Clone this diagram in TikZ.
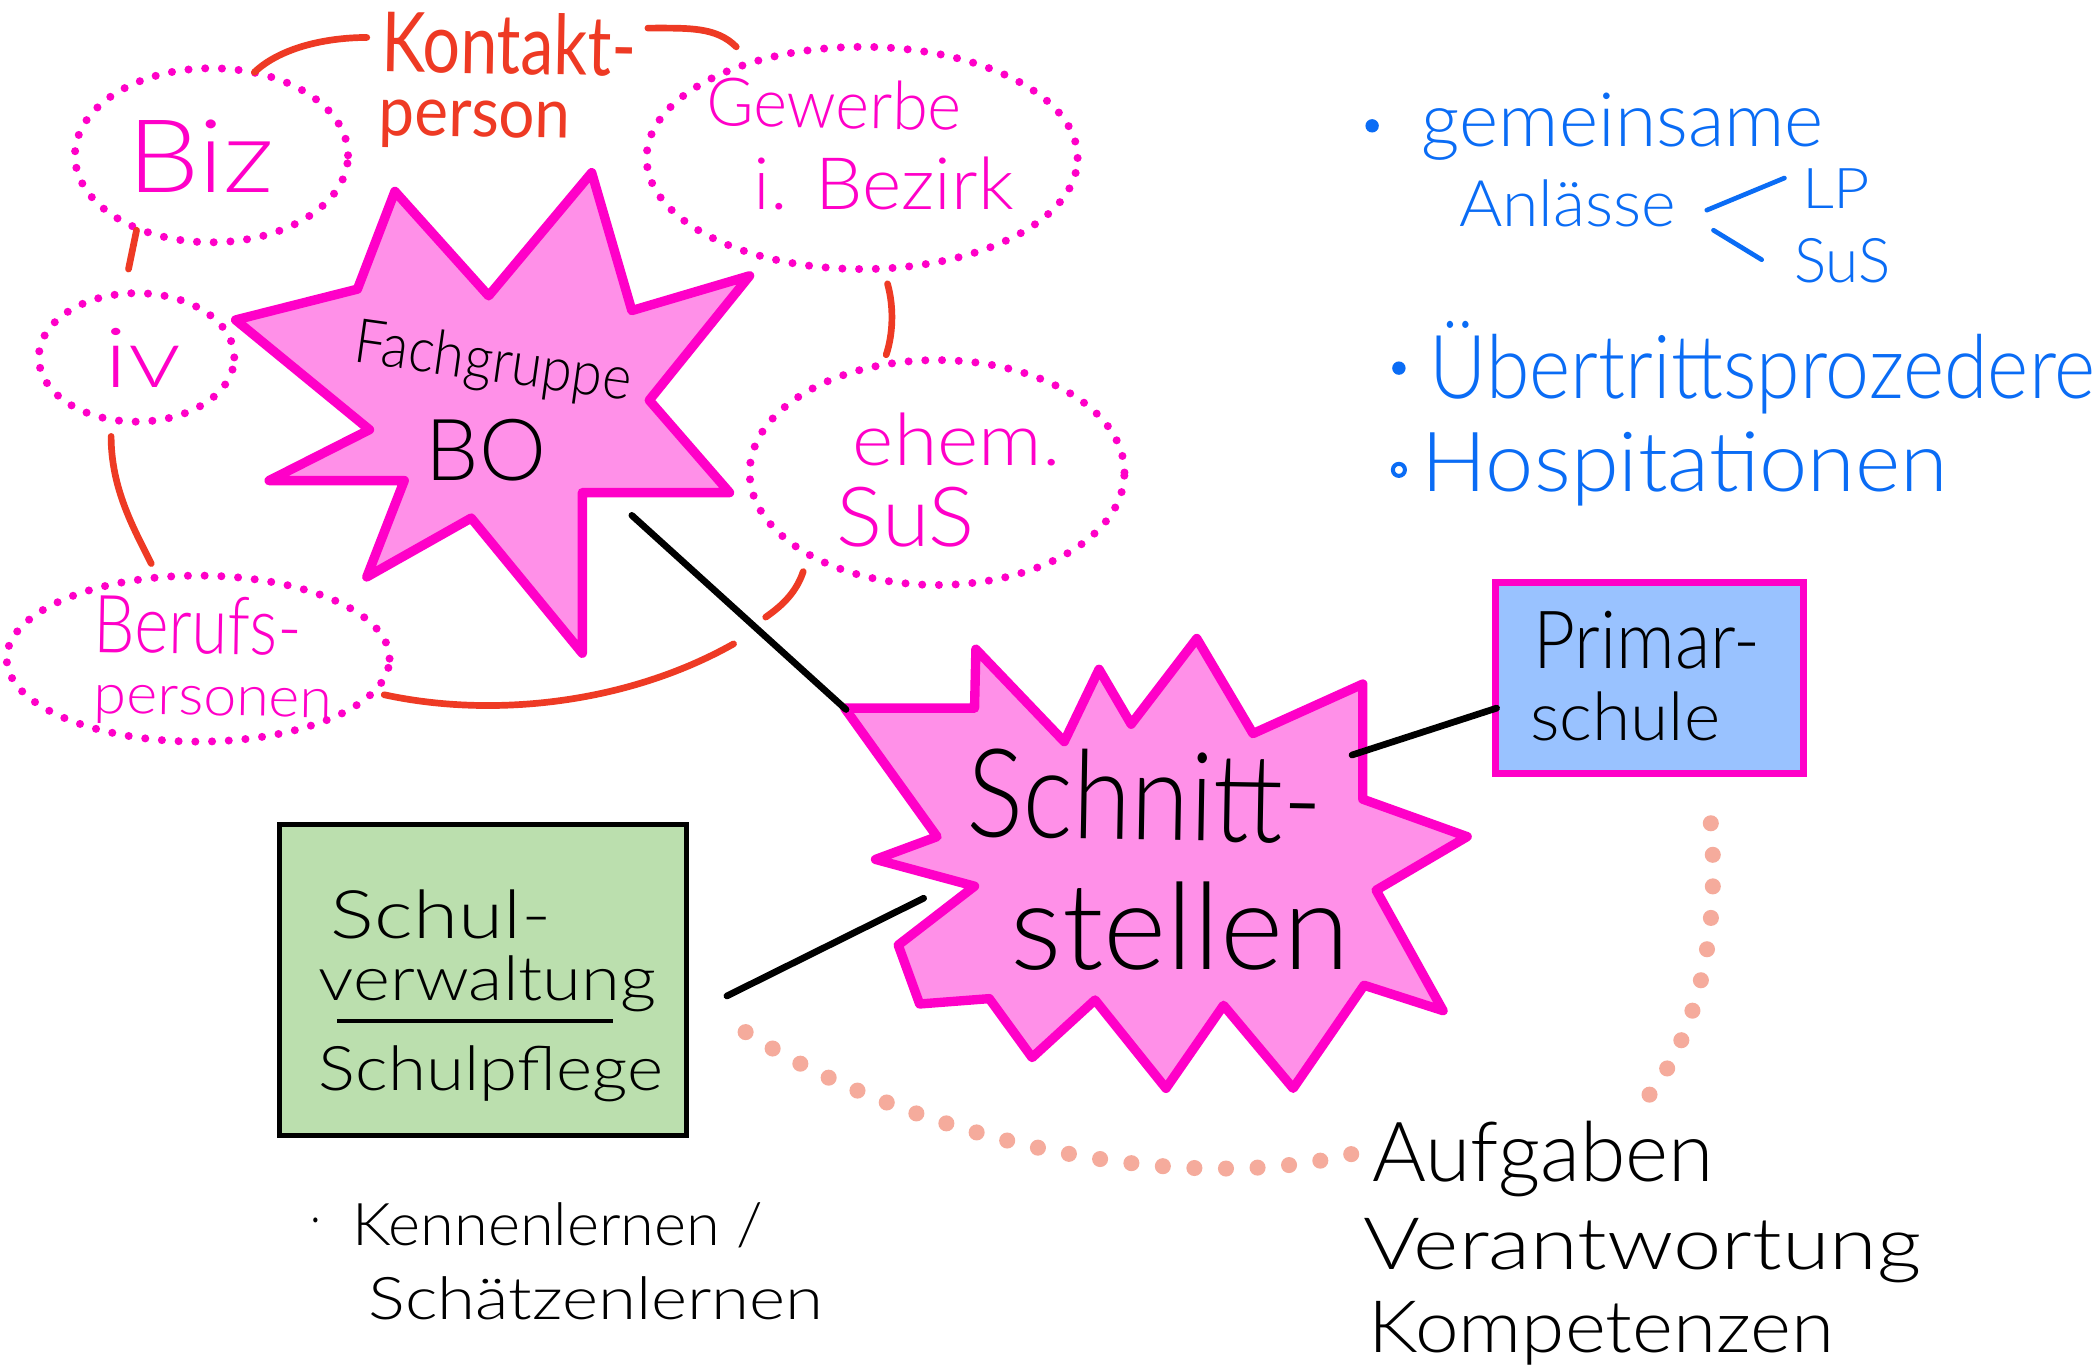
\documentclass[tikz,border=0pt]{standalone}
\usepackage{fontspec}
\setmainfont{Lato Light}
\newfontfamily\hwheavy{Lato}
\usetikzlibrary{shapes.geometric}
\definecolor{mag}{HTML}{FF00C8}
\definecolor{pinkfill}{HTML}{FF90E8}
\definecolor{redl}{HTML}{EE3A24}
\definecolor{bluet}{HTML}{0A6CF5}
\definecolor{salmon}{HTML}{F5AB9C}
\definecolor{greenb}{HTML}{BBDFAE}
\definecolor{blueb}{HTML}{99C2FF}
\tikzset{
 x=1pt,y=-1pt,
 burst/.style={draw=mag,fill=pinkfill,line width=7pt,line join=round},
 dotell/.style={ellipse,draw=mag,line width=6pt,line cap=round,dash pattern=on 0pt off 12.5pt,inner sep=0pt,minimum width=#1},
 redline/.style={draw=redl,line width=5pt,line cap=round},
 blackline/.style={draw=black,line width=5pt,line cap=round},
 bluebranch/.style={draw=bluet,line width=3.5pt,line cap=round},
 salmondots/.style={draw=salmon,line width=12pt,line cap=round,dash pattern=on 0pt off 23.6pt},
 tx/.style={anchor=west,inner sep=0pt},
 magt/.style={tx,text=mag},
 redt/.style={tx,text=redl,font=\hwheavy},
 bluetx/.style={tx,text=bluet},
 blackt/.style={tx,text=black},
}
\newcommand{\hw}[3]{{\fontsize{#1}{#1}\selectfont\resizebox{#2pt}{\height}{#3}}}
\begin{document}
\begin{tikzpicture}
\useasboundingbox (0,0) rectangle (1568,1024);
\fill[white] (0,0) rectangle (1568,1024);
% bursts
\draw[burst] (176,239)--(267,216)--(295,143)--(365,221)--(442,129)--(472,232)--(560,206)--(485,299)--(545,368)--(435,368)--(435,488)--(352,387)--(274,431)--(302,359)--(201,359)--(276,321)--cycle;
\draw[burst] (631,529)--(728,529)--(729,485)--(795,554)--(821,500)--(845,541)--(894,477)--(936,548)--(1018,511)--(1018,597)--(1096,625)--(1028,665)--(1078,755)--(1019,736)--(966,813)--(914,751)--(871,813)--(818,747)--(771,790)--(739,746)--(687,750)--(671,706)--(728,662)--(654,642)--(700,625)--cycle;
% ellipses
\node[dotell=204pt,minimum height=130pt] (biz) at (158,116) {};
\node[dotell=146pt,minimum height=96pt] (iv) at (102,267) {};
\node[dotell=322pt,minimum height=166pt] (gew) at (644,118) {};
\node[dotell=280pt,minimum height=168pt] (ehem) at (700,353) {};
\node[dotell=286pt,minimum height=124pt] (ber) at (148,492) {};
% boxes
\node[draw=black,fill=greenb,line width=3.5pt,minimum width=304pt,minimum height=232pt,inner sep=0pt] (sv) at (361,732) {};
\node[draw=mag,fill=blueb,line width=5pt,minimum width=230pt,minimum height=143pt,inner sep=0pt] (ps) at (1232,506.5) {};
% texts
\node[redt,rotate=-1] (kon) at (285,31) {\hw{62}{190}{Kontakt-}};
\node[redt,rotate=-1] (per) at (283,92) {\hw{52}{143}{person}};
\node[magt] (tbiz) at (95,117) {\hw{76}{110}{Biz}};
\node[magt] (tiv) at (78,267) {\hw{62}{57}{iv}};
\node[magt,rotate=-1] (tgew) at (528,76) {\hw{50}{190}{Gewerbe}};
\node[magt] (tbez) at (563,137) {\hw{54}{194}{i. Bezirk}};
\node[magt] (tehem) at (637,328) {\hw{54}{155}{ehem.}};
\node[magt] (tsus) at (625,386) {\hw{62}{103}{SuS}};
\node[magt,rotate=-1] (tber) at (70,466) {\hw{60}{155}{Berufs-}};
\node[magt,rotate=-1] (tpers) at (70,526) {\hw{42}{178}{personen}};
\node[blackt,rotate=-8] (fg) at (265,258) {\hw{46}{208}{Fachgruppe}};
\node[blackt] (bo) at (318,336) {\hw{64}{90}{BO}};
\node[blackt,rotate=-1] (s1) at (722,592) {\hw{92}{266}{Schnitt-}};
\node[blackt] (s2) at (755,692) {\hw{90}{253}{stellen}};
\node[blackt] (pr) at (1145,478) {\hw{60}{170}{Primar-}};
\node[blackt] (sc) at (1143,535) {\hw{50}{142}{schule}};
\node[blackt] (sh) at (247,683) {\hw{50}{165}{Schul-}};
\node[blackt] (vw) at (238,735) {\hw{46}{252}{verwaltung}};
\node[blackt] (pf) at (238,802) {\hw{46}{257}{Schulpflege}};
\node[blackt] (dt) at (232,912) {\hw{40}{8}{.}};
\node[blackt] (ke) at (263,915) {\hw{44}{307}{Kennenlernen /}};
\node[blackt] (se) at (275,970) {\hw{44}{340}{Schätzenlernen}};
\node[blackt] (auf) at (1025,866) {\hw{62}{255}{Aufgaben}};
\node[blackt] (ver) at (1018,934) {\hw{54}{417}{Verantwortung}};
\node[blackt] (kom) at (1022,996) {\hw{54}{348}{Kompetenzen}};
\node[bluetx] (gem) at (1062,95) {\hw{56}{300}{gemeinsame}};
\node[bluetx] (anl) at (1090,152) {\hw{48}{162}{Anlässe}};
\node[bluetx] (lp) at (1346,141) {\hw{42}{51}{LP}};
\node[bluetx] (sus) at (1340,195) {\hw{46}{72}{SuS}};
\node[bluetx] (ueb) at (1068,275) {\hw{66}{497}{Übertrittsprozedere}};
\node[bluetx] (hos) at (1062,350) {\hw{62}{393}{Hospitationen}};
\node[fill=bluet,circle,minimum size=10pt,inner sep=0pt] (b1) at (1025,94) {};
\node[fill=bluet,circle,minimum size=10pt,inner sep=0pt] (b2) at (1045,275) {};
\node[draw=bluet,line width=3pt,circle,minimum size=9pt,inner sep=0pt] (b3) at (1045,351) {};
% blue branches
\coordinate (bb0) at (1275,157); \coordinate (bb1) at (1333,133);
\coordinate (bc0) at (1280,172); \coordinate (bc1) at (1316,194);
\draw[bluebranch] (bb0) -- (bb1);
\draw[bluebranch] (bc0) -- (bc1);
% red links
\coordinate (r1a) at (190,54); \coordinate (r1b) at (274,28);
\coordinate (r2a) at (484,21); \coordinate (r2b) at (550,35);
\draw[redline] (r1a) .. controls (210,35) and (245,28) .. (r1b);
\draw[redline] (r2a) .. controls (515,21) and (535,20) .. (r2b);
\coordinate (r3a) at (102,172); \coordinate (r3b) at (96,201);
\draw[redline] (r3a) -- (r3b);
\coordinate (r4a) at (663,212); \coordinate (r4b) at (662,265);
\draw[redline] (r4a) .. controls (668,230) and (667,250) .. (r4b);
\coordinate (r5a) at (83,326); \coordinate (r5b) at (113,421);
\draw[redline] (r5a) .. controls (83,365) and (100,395) .. (r5b);
\coordinate (r6a) at (287,519); \coordinate (r6b) at (548,481);
\draw[redline] (r6a) .. controls (370,537) and (470,525) .. (r6b);
\coordinate (r7a) at (600,427); \coordinate (r7b) at (572,461);
\draw[redline] (r7a) .. controls (595,442) and (585,452) .. (r7b);
% black links
\coordinate (b1a) at (472,385); \coordinate (b1b) at (632,530);
\draw[blackline] (b1a) -- (b1b);
\coordinate (b2a) at (1010,564); \coordinate (b2b) at (1118,529);
\draw[blackline] (b2a) -- (b2b);
\coordinate (b3a) at (543,744); \coordinate (b3b) at (690,671);
\draw[blackline] (b3a) -- (b3b);
\coordinate (u1) at (252,763); \coordinate (u2) at (458,763);
\draw[black,line width=3pt] (u1) -- (u2);
% salmon dots
\coordinate (d1a) at (1278,615); \coordinate (d1b) at (1232,818);
\draw[salmondots] (d1a) .. controls (1285,690) and (1270,770) .. (d1b);
\coordinate (d2a) at (557,771); \coordinate (d2b) at (1010,862);
\draw[salmondots] (d2a) .. controls (680,850) and (880,895) .. (d2b);
\end{tikzpicture}
\end{document}
